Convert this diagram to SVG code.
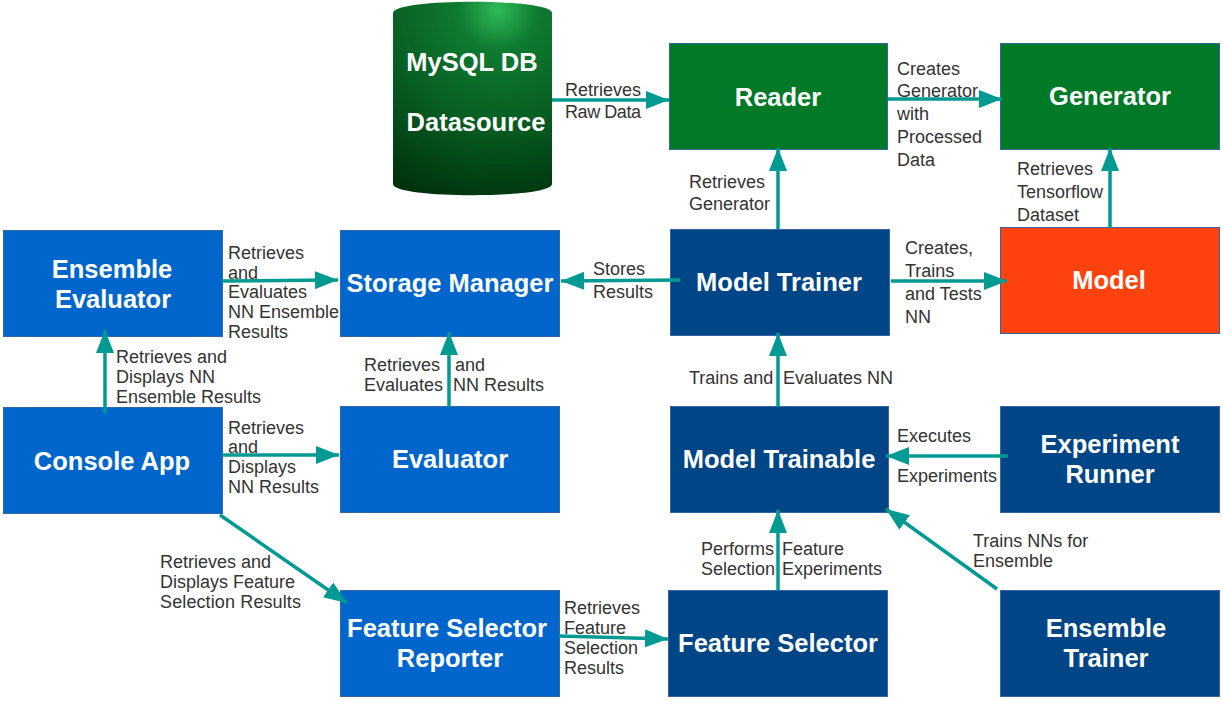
<svg xmlns="http://www.w3.org/2000/svg" width="1223" height="701" viewBox="0 0 1223 701">
<style>
.n{stroke:#3465a4;stroke-width:1}
.b{fill:#0066cc}.d{fill:#004586}.g{fill:#007a27}.r{fill:#ff420e}
text{font-family:"Liberation Sans",Arial,sans-serif}
.t{font-size:25.500px;font-weight:bold;fill:#fff;text-anchor:middle}
.l{font-size:18px;fill:#333}
.c{fill:none;stroke:#009a93;stroke-width:3.500;marker-end:url(#a)}
</style>
<defs>
<marker id="a" markerUnits="userSpaceOnUse" markerWidth="24" markerHeight="18" refX="23" refY="9" orient="auto"><path d="M0 0L23 9L0 18Z" fill="#009a93"/></marker>
<radialGradient id="db" gradientUnits="userSpaceOnUse" cx="498" cy="10" r="200" fx="498" fy="10"><stop offset="0" stop-color="#2fbb58"/><stop offset=".2" stop-color="#0f7a30"/><stop offset=".55" stop-color="#085f24"/><stop offset="1" stop-color="#00320d"/></radialGradient>
</defs>
<g id="datasource">
<path d="M393 13C393 -2 552 -2 552 13V184C552 199 393 199 393 184Z" fill="url(#db)"/>
<text class="t" x="472" y="71">MySQL DB</text><text class="t" x="476" y="131">Datasource</text>
</g>
<g id="reader"><rect class="n g" x="669.500" y="43.500" width="218" height="106"/><text class="t" x="778" y="106">Reader</text></g>
<g id="generator"><rect class="n g" x="1000.500" y="43.500" width="219" height="106"/><text class="t" x="1110" y="105">Generator</text></g>
<g id="ensemble-evaluator"><rect class="n b" x="3.500" y="230.500" width="219" height="106"/><text class="t" x="112" y="278">Ensemble</text><text class="t" x="113" y="308">Evaluator</text></g>
<g id="storage-manager"><rect class="n b" x="340.500" y="230.500" width="219" height="106"/><text class="t" x="450" y="292">Storage Manager</text></g>
<g id="model-trainer"><rect class="n d" x="670.500" y="229.500" width="219" height="106"/><text class="t" x="779" y="291">Model Trainer</text></g>
<g id="model"><rect class="n r" x="1000.500" y="227.500" width="219" height="106"/><text class="t" x="1109" y="289">Model</text></g>
<g id="console-app"><rect class="n b" x="3.500" y="407.500" width="219" height="106"/><text class="t" x="112" y="470">Console App</text></g>
<g id="evaluator"><rect class="n b" x="340.500" y="406.500" width="219" height="106"/><text class="t" x="450" y="468">Evaluator</text></g>
<g id="model-trainable"><rect class="n d" x="670.500" y="406.500" width="218" height="106"/><text class="t" x="779" y="468">Model Trainable</text></g>
<g id="experiment-runner"><rect class="n d" x="1000.500" y="406.500" width="219" height="106"/><text class="t" x="1110" y="453">Experiment</text><text class="t" x="1110" y="483">Runner</text></g>
<g id="feature-selector-reporter"><rect class="n b" x="340.500" y="590.500" width="219" height="106"/><text class="t" x="447" y="637">Feature Selector</text><text class="t" x="450" y="667">Reporter</text></g>
<g id="feature-selector"><rect class="n d" x="668.500" y="590.500" width="219" height="106"/><text class="t" x="778" y="652">Feature Selector</text></g>
<g id="ensemble-trainer"><rect class="n d" x="1000.500" y="590.500" width="219" height="106"/><text class="t" x="1106" y="637">Ensemble</text><text class="t" x="1106" y="667">Trainer</text></g>
<g id="labels">
<text class="l" x="565" y="96">Retrieves</text><text class="l" x="565" y="118" textLength="76">Raw Data</text>
<text class="l" x="897" y="75">Creates</text><text class="l" x="897" y="97">Generator</text><text class="l" x="897" y="120">with</text><text class="l" x="897" y="143">Processed</text><text class="l" x="897" y="166">Data</text>
<text class="l" x="689" y="188">Retrieves</text><text class="l" x="689" y="210">Generator</text>
<text class="l" x="1017" y="175">Retrieves</text><text class="l" x="1017" y="198">Tensorflow</text><text class="l" x="1017" y="221">Dataset</text>
<text class="l" x="593" y="275">Stores</text><text class="l" x="593" y="298">Results</text>
<text class="l" x="905" y="254">Creates,</text><text class="l" x="905" y="277">Trains</text><text class="l" x="905" y="300">and Tests</text><text class="l" x="905" y="323">NN</text>
<text class="l" x="228" y="259">Retrieves</text><text class="l" x="228" y="279">and</text><text class="l" x="228" y="298">Evaluates</text><text class="l" x="228" y="318">NN Ensemble</text><text class="l" x="228" y="338">Results</text>
<text class="l" x="116" y="363">Retrieves and</text><text class="l" x="116" y="383">Displays NN</text><text class="l" x="116" y="403">Ensemble Results</text>
<text class="l" x="364" y="371">Retrieves</text><text class="l" x="455" y="371">and</text><text class="l" x="364" y="391">Evaluates</text><text class="l" x="453" y="391">NN Results</text>
<text class="l" x="689" y="384">Trains and</text><text class="l" x="783" y="384">Evaluates NN</text>
<text class="l" x="228" y="434">Retrieves</text><text class="l" x="228" y="453">and</text><text class="l" x="228" y="473">Displays</text><text class="l" x="228" y="493">NN Results</text>
<text class="l" x="897" y="442">Executes</text><text class="l" x="897" y="482">Experiments</text>
<text class="l" x="973" y="547">Trains NNs for</text><text class="l" x="973" y="567">Ensemble</text>
<text class="l" x="701" y="555">Performs</text><text class="l" x="782" y="555">Feature</text><text class="l" x="701" y="575">Selection</text><text class="l" x="782" y="575">Experiments</text>
<text class="l" x="160" y="568">Retrieves and</text><text class="l" x="160" y="588">Displays Feature</text><text class="l" x="160" y="608" textLength="141">Selection Results</text>
<text class="l" x="564" y="614">Retrieves</text><text class="l" x="564" y="634">Feature</text><text class="l" x="564" y="654">Selection</text><text class="l" x="564" y="674">Results</text>
</g>
<g id="connectors">
<path class="c" d="M552 100H669"/>
<path class="c" d="M888 99H1002"/>
<path class="c" d="M778 229V148"/>
<path class="c" d="M1110 228V148"/>
<path class="c" d="M680 280L561 281"/>
<path class="c" d="M891 281H1007"/>
<path class="c" d="M222 281L338 280"/>
<path class="c" d="M449 407V332"/>
<path class="c" d="M105 413V330"/>
<path class="c" d="M222 455H339"/>
<path class="c" d="M778 407V333"/>
<path class="c" d="M1008 456L886 456"/>
<path class="c" d="M997 589L886 509"/>
<path class="c" d="M778 590V510"/>
<path class="c" d="M220 515L347 603"/>
<path class="c" d="M559 636L668 639"/>
</g>
</svg>
